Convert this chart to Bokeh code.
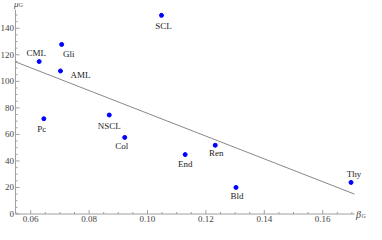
import numpy as np
from bokeh.plotting import figure
from bokeh.models import Range1d, ColumnDataSource
from bokeh.core.properties import value
from bokeh.embed import file_html
from bokeh.resources import INLINE

# ---- data ----
cancers = ["CML", "Gli", "AML", "SCL", "Pc", "NSCL", "Col", "End", "Ren", "Bld", "Thy"]
beta_g = [0.0629, 0.0706, 0.0702, 0.1048, 0.0645, 0.0869, 0.0922, 0.1129, 0.1232, 0.1303, 0.1697]
mu_g = [114.9, 127.8, 107.8, 149.7, 71.8, 74.6, 57.7, 44.8, 51.8, 20.0, 23.8]
x_ticks = [0.06, 0.08, 0.10, 0.12, 0.14, 0.16]
x_tick_labels = ["0.06", "0.08", "0.10", "0.12", "0.14", "0.16"]
y_ticks = [0, 20, 40, 60, 80, 100, 120, 140]
y_tick_labels = ["0", "20", "40", "60", "80", "100", "120", "140"]
x_minor = [0.055, 0.065, 0.07, 0.075, 0.085, 0.09, 0.095, 0.105, 0.11, 0.115,
           0.125, 0.13, 0.135, 0.145, 0.15, 0.155, 0.165, 0.17]
y_minor = [5, 10, 15, 25, 30, 35, 45, 50, 55, 65, 70, 75, 85, 90, 95,
           105, 110, 115, 125, 130, 135, 145, 150]

# label placement (screen px, positive dy = down)
label_dx = [-3, 7, 20, 2, -2, 0, -3, 0, 1, 1, 3]
label_dy = [-9, 10, 4, 11, 10, 11, 9, 9, 8, 9, -8]

# axis extents (data) and the visible frame around them
X0, X1 = 0.0548, 0.1709
Y0, Y1 = 0.0, 154.0
XA, XB = 0.04966, 0.1750
YA, YB = -7.9, 160.9

FONT = "Liberation Serif"
AXIS_COL = "#a0a0a0"
TICKLAB_COL = "#444444"

p = figure(width=366, height=224, x_range=Range1d(XA, XB), y_range=Range1d(YA, YB),
           x_axis_location=None, y_axis_location=None,
           toolbar_location=None, output_backend="svg",
           min_border_left=0, min_border_right=0, min_border_top=0, min_border_bottom=0)
p.outline_line_color = None
p.grid.visible = False
p.background_fill_color = "white"
p.border_fill_color = "white"

# axes (Mathematica style: crossing lines with inward ticks)
p.line([X0, X1], [Y0, Y0], line_color=AXIS_COL, line_width=1)
p.line([X0, X0], [Y0, Y1], line_color=AXIS_COL, line_width=1)
p.ray(x=x_ticks, y=[Y0] * len(x_ticks), length=4, length_units="screen",
      angle=np.pi / 2, line_color=AXIS_COL, line_width=1)
p.ray(x=x_minor, y=[Y0] * len(x_minor), length=2, length_units="screen",
      angle=np.pi / 2, line_color=AXIS_COL, line_width=1)
p.ray(x=[X0] * len(y_ticks), y=y_ticks, length=4, length_units="screen",
      angle=0, line_color=AXIS_COL, line_width=1)
p.ray(x=[X0] * len(y_minor), y=y_minor, length=2, length_units="screen",
      angle=0, line_color=AXIS_COL, line_width=1)

# tick labels
p.text(x_ticks, [Y0] * len(x_ticks), text=x_tick_labels, y_offset=5,
       text_align="center", text_baseline="middle",
       text_font=value(FONT), text_font_size="9px", text_color=TICKLAB_COL)
p.text([X0] * len(y_ticks), y_ticks, text=y_tick_labels, x_offset=-1.5,
       text_align="right", text_baseline="middle",
       text_font=value(FONT), text_font_size="9px", text_color=TICKLAB_COL)

# least-squares fit line
slope, intercept = np.polyfit(beta_g, mu_g, 1)
fx = [X0, X1]
fy = [intercept + slope * v for v in fx]
p.line(fx, fy, line_color="#888888", line_width=1)

src = ColumnDataSource(dict(x=beta_g, y=mu_g, name=cancers, dx=label_dx, dy=label_dy))
p.scatter("x", "y", source=src, size=4, fill_color="#0000ff", line_color="#0000ff")
p.text("x", "y", text="name", source=src, x_offset="dx", y_offset="dy",
       text_align="center", text_baseline="middle",
       text_font=value(FONT), text_font_size="9px", text_color="#222222")

# axis labels (mu_G at top of y axis, beta_G at end of x axis)
def axis_label(x, y, txt, dx, dy, size):
    p.text([x], [y], text=[txt], x_offset=dx, y_offset=dy,
           text_align="left", text_baseline="middle",
           text_font=value(FONT), text_font_style="italic",
           text_font_size=size, text_color=TICKLAB_COL)

axis_label(X0, Y1, "μ", -1.5, -6, "9px")
axis_label(X0, Y1, "G", 3, -5, "6px")
axis_label(X1, Y0, "β", 1.5, 0, "10px")
axis_label(X1, Y0, "G", 7, 2, "6px")

open("out.html", "w").write(file_html(p, INLINE))
